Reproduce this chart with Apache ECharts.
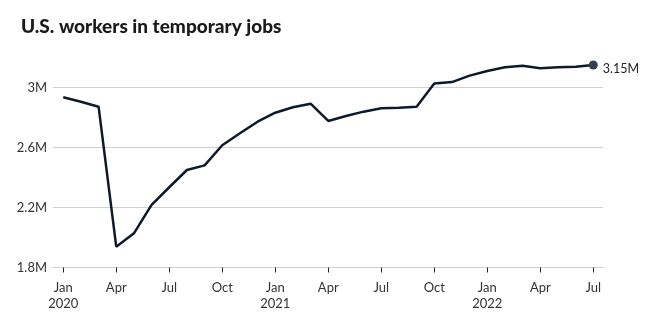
<!DOCTYPE html>
<html>
<head>
<meta charset="utf-8">
<script src="https://cdn.jsdelivr.net/npm/echarts@6/dist/echarts.min.js"></script>
<style>
  html, body { margin: 0; padding: 0; background: #fff; }
  #chart { width: 653px; height: 329px; }
</style>
</head>
<body>
<div id="chart"></div>
<script>
// Monthly count of U.S. workers in temporary help services, millions
const months = ['Jan','Feb','Mar','Apr','May','Jun','Jul','Aug','Sep','Oct','Nov','Dec',
                'Jan','Feb','Mar','Apr','May','Jun','Jul','Aug','Sep','Oct','Nov','Dec',
                'Jan','Feb','Mar','Apr','May','Jun','Jul'];
const years = {0: '2020', 12: '2021', 24: '2022'};
const workers = [2.935, 2.905, 2.872, 1.939, 2.028, 2.217, 2.335, 2.45, 2.481, 2.615, 2.695, 2.772,
                 2.832, 2.868, 2.892, 2.777, 2.81, 2.839, 2.861, 2.865, 2.872, 3.026, 3.036, 3.079,
                 3.11, 3.135, 3.145, 3.128, 3.135, 3.139, 3.15];
const tickMonths = [0, 3, 6, 9, 12, 15, 18, 21, 24, 27, 30];
const yTicks = { min: 1.8, max: 3.2, step: 0.4 };

const font = 'Lato, "Open Sans", sans-serif';
const lineColor = '#0e1a2b';
const lastIdx = workers.length - 1;

const seriesData = workers.map((v, i) => {
  const item = { value: [i, v] };
  if (i === lastIdx) {
    item.symbol = 'circle';
    item.symbolSize = 9;
    item.itemStyle = { color: '#38404f' };
    item.label = {
      show: true, position: 'right', distance: 5, offset: [0, 4],
      formatter: (p) => p.value[1].toFixed(2) + 'M',
      fontFamily: font, fontSize: 12.5, color: '#222'
    };
  }
  return item;
});

const chart = echarts.init(document.getElementById('chart'), null, { renderer: 'canvas' });
chart.setOption({
  animation: false,
  title: {
    text: 'U.S. workers in temporary jobs',
    left: 16, top: 12,
    textStyle: { fontFamily: font, fontWeight: 900, fontSize: 19, color: '#1a1a1a' }
  },
  grid: { left: 53, right: 50, top: 57.5, bottom: 61.5 },
  xAxis: {
    type: 'value',
    min: -0.58, max: lastIdx + 0.55,
    axisLine: { show: true, lineStyle: { color: '#cfcfcf', width: 1 } },
    axisTick: { show: true, length: 5, customValues: tickMonths, lineStyle: { color: '#222', width: 1 } },
    axisLabel: {
      customValues: tickMonths,
      margin: 12, lineHeight: 16.5,
      fontFamily: font, fontSize: 13, color: '#333',
      formatter: (v) => {
        const i = Math.round(v);
        return years[i] ? months[i] + '\n' + years[i] : months[i];
      }
    },
    splitLine: { show: false }
  },
  yAxis: {
    type: 'value',
    min: yTicks.min, max: yTicks.max, interval: yTicks.step,
    axisLine: { show: false },
    axisTick: { show: false },
    axisLabel: {
      showMaxLabel: false, margin: 6,
      fontFamily: font, fontSize: 13, color: '#333',
      formatter: (v) => (+v.toFixed(1)) + 'M'
    },
    splitLine: { show: true, showMaxLine: false, lineStyle: { color: '#cfcfcf', width: 1 } }
  },
  series: [{
    type: 'line',
    data: seriesData,
    showSymbol: true,
    symbol: 'none',
    lineStyle: { color: lineColor, width: 2.5 },
    itemStyle: { color: lineColor },
    emphasis: { disabled: true }
  }]
});
</script>
</body>
</html>
